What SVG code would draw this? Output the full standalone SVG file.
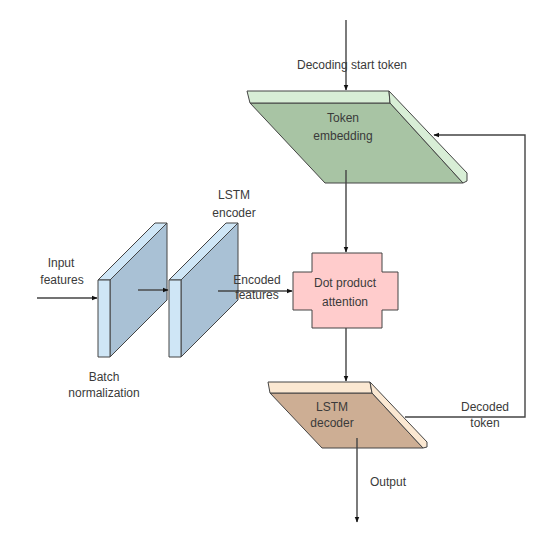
<svg xmlns="http://www.w3.org/2000/svg" width="540" height="540" viewBox="0 0 540 540">
<defs>
<marker id="arr" viewBox="0 0 10 10" refX="9" refY="5" markerWidth="6" markerHeight="6" orient="auto" markerUnits="userSpaceOnUse">
<path d="M0,1 L10,5 L0,9 z" fill="#111"/>
</marker>
<style>
.t{font-family:"Liberation Sans",Arial,sans-serif;font-size:12px;fill:#3a3a3a;text-anchor:middle}
.c{fill:none;stroke:#444;stroke-width:1.4}
.edge{stroke:#444;stroke-width:1;stroke-linejoin:round}
.gface{fill:#a8c4a4}.gstrip{fill:#d8eed6}
.bface{fill:#a9c1d5}.bstrip{fill:#cfe6f6}
.tface{fill:#cdae94}.tstrip{fill:#fbe8d2}
</style>
</defs>
<rect width="540" height="540" fill="#fff"/>

<g id="token-embedding">
<polygon class="gface edge" points="250,103 390,103 463,183 325,183"/>
<polygon class="gstrip edge" points="247,91 389,91 390,103 250,103"/>
<polygon class="gstrip edge" points="389,91 467,173 467,181 463,183 390,103"/>
<text class="t" x="343" y="122">Token</text>
<text class="t" x="343" y="140">embedding</text>
</g>

<g id="batch-normalization">
<polygon class="bface edge" points="110,280 167,223 167,300 110,357"/>
<polygon class="bstrip edge" points="98,280 155,223 167,223 110,280"/>
<polygon class="bstrip edge" points="98,280 110,280 110,357 98,357"/>
<text class="t" x="104" y="381">Batch</text>
<text class="t" x="104" y="397">normalization</text>
</g>

<g id="lstm-encoder">
<polygon class="bface edge" points="181,280 238,223 238,300 181,357"/>
<polygon class="bstrip edge" points="169,280 226,223 238,223 181,280"/>
<polygon class="bstrip edge" points="169,280 181,280 181,357 169,357"/>
<text class="t" x="234" y="199">LSTM</text>
<text class="t" x="234" y="217">encoder</text>
</g>

<g id="attention">
<polygon fill="#ffcccc" class="edge" points="312,253 382,253 382,272 398,272 398,310 382,310 382,328 312,328 312,310 293,310 293,272 312,272"/>
<text class="t" x="345" y="287">Dot product</text>
<text class="t" x="345" y="306">attention</text>
</g>

<g id="lstm-decoder">
<polygon class="tface edge" points="270,393 372,393 423,448 322,448"/>
<polygon class="tstrip edge" points="268,382 370,382 372,393 270,393"/>
<polygon class="tstrip edge" points="370,382 427,442 427,447 423,448 372,393"/>
<text class="t" x="332" y="411">LSTM</text>
<text class="t" x="332" y="427">decoder</text>
</g>

<g id="connectors">
<line class="c" x1="346" y1="20" x2="346" y2="90" marker-end="url(#arr)"/>
<line class="c" x1="346" y1="170" x2="346" y2="252" marker-end="url(#arr)"/>
<line class="c" x1="346" y1="328" x2="346" y2="381" marker-end="url(#arr)"/>
<line class="c" x1="357" y1="438" x2="357" y2="522" marker-end="url(#arr)"/>
<line class="c" x1="37" y1="298" x2="97" y2="298" marker-end="url(#arr)"/>
<line class="c" x1="138" y1="290" x2="168" y2="290" marker-end="url(#arr)"/>
<line class="c" x1="218" y1="291" x2="292" y2="291" marker-end="url(#arr)"/>
<polyline class="c" points="405,417 525,417 525,135 434,135" marker-end="url(#arr)"/>
</g>

<g id="labels">
<text class="t" x="352" y="69">Decoding start token</text>
<text class="t" x="61" y="267">Input</text>
<text class="t" x="62" y="284">features</text>
<text class="t" x="257" y="284">Encoded</text>
<text class="t" x="257" y="299">features</text>
<text class="t" x="485" y="411">Decoded</text>
<text class="t" x="485" y="427">token</text>
<text class="t" x="370" y="486" style="text-anchor:start">Output</text>
</g>
</svg>
